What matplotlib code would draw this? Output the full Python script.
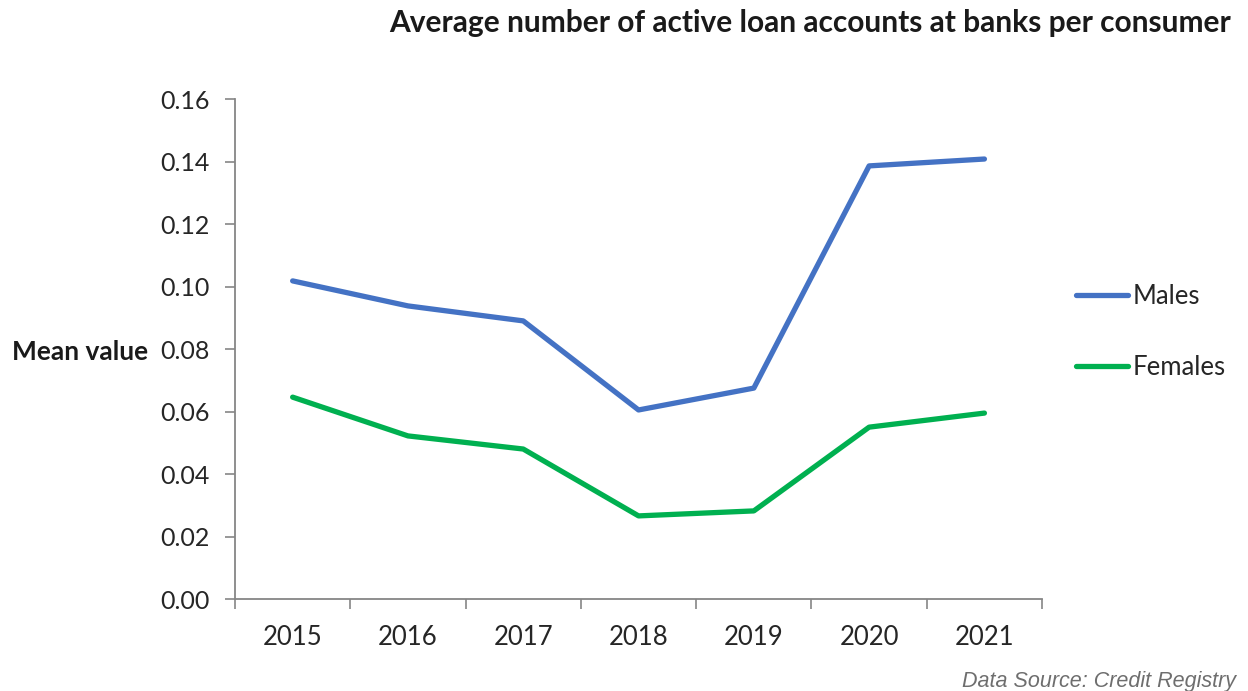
import matplotlib.pyplot as plt

years = ["2015", "2016", "2017", "2018", "2019", "2020", "2021"]
males = [0.1018, 0.0938, 0.0890, 0.0605, 0.0675, 0.1386, 0.1408]
females = [0.0646, 0.0522, 0.0480, 0.0266, 0.0282, 0.0550, 0.0595]
y_ticks = [0.00, 0.02, 0.04, 0.06, 0.08, 0.10, 0.12, 0.14, 0.16]

AXIS_GREY = "#868686"
TEXT = "#262626"

plt.rcParams["font.family"] = ["Lato", "DejaVu Sans"]

fig = plt.figure(figsize=(12.48, 6.91), dpi=100)
ax = fig.add_axes([0.1883, 0.1331, 0.6467, 0.7236])

x = list(range(len(years)))
ax.plot(x, males, color="#4472C4", lw=3.8, solid_capstyle="round", label="Males")
ax.plot(x, females, color="#00B050", lw=3.8, solid_capstyle="round", label="Females")

ax.set_xlim(-0.5, len(years) - 0.5)
ax.set_ylim(0, 0.16)
ax.set_yticks(y_ticks)
ax.set_yticklabels([f"{v:.2f}" for v in y_ticks])
ax.set_xticks(x)
ax.set_xticklabels(years)
# category boundary ticks on the x axis, labels stay centred
ax.set_xticks([i - 0.5 for i in range(len(years) + 1)], minor=True)
ax.tick_params(axis="x", which="major", length=0, pad=19, labelsize=18.5, colors=TEXT)
ax.tick_params(axis="x", which="minor", length=7, width=1.2, color=AXIS_GREY, direction="out")
ax.tick_params(axis="y", length=7, width=1.2, color=AXIS_GREY, labelsize=18,
               labelcolor=TEXT, pad=11)

for side in ("top", "right"):
    ax.spines[side].set_visible(False)
for side in ("left", "bottom"):
    ax.spines[side].set_color(AXIS_GREY)
    ax.spines[side].set_linewidth(1.3)

fig.text(0.119, 1 - 352 / 691, "Mean value", ha="right", va="center",
         fontsize=19, fontweight="bold", color="#1a1a1a")

fig.text(0.649, 1 - 23 / 691, "Average number of active loan accounts at banks per consumer",
         ha="center", va="center", fontsize=21.5, fontweight="bold", color="#1a1a1a")

leg = ax.legend(loc="upper left", bbox_to_anchor=(1.013, 0.676), frameon=False,
                fontsize=18.5, handlelength=2.05, handletextpad=0.15, labelspacing=1.78)
for t in leg.get_texts():
    t.set_color(TEXT)

fig.text(0.990, 1 - 681 / 691, "Data Source: Credit Registry", ha="right", va="center",
         fontsize=15.5, style="italic", color="#6e6e6e", family="Liberation Sans")

fig.savefig("out.png", dpi=100, facecolor="white")
